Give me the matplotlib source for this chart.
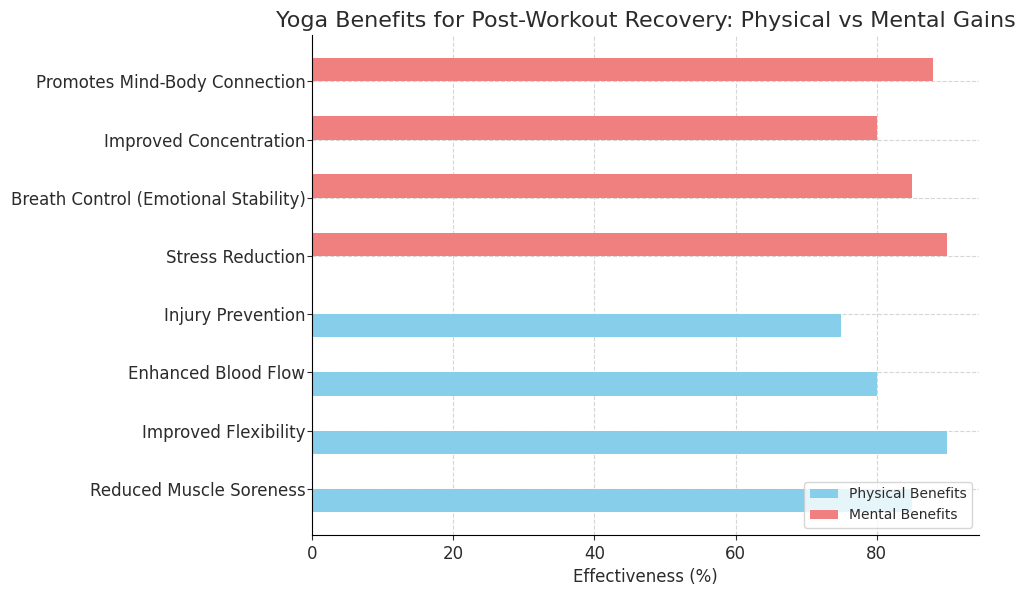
import numpy as np
import matplotlib
matplotlib.use('Agg')
from matplotlib import pyplot as plt

categories = ['Reduced Muscle Soreness', 'Improved Flexibility', 'Enhanced Blood Flow',
              'Injury Prevention', 'Stress Reduction', 'Breath Control (Emotional Stability)',
              'Improved Concentration', 'Promotes Mind-Body Connection']
physical = [85, 90, 80, 75, 0, 0, 0, 0]
mental = [0, 0, 0, 0, 90, 85, 80, 88]

plt.rcParams['text.color'] = '#2b2b2b'
plt.rcParams['axes.labelcolor'] = '#2b2b2b'
plt.rcParams['xtick.color'] = '#2b2b2b'
plt.rcParams['ytick.color'] = '#2b2b2b'

fig = plt.figure(figsize=(10.24, 5.89), dpi=100)
ax = fig.add_axes([0.305, 0.092, 0.651, 0.848])

y = np.arange(len(categories))
h = 0.4
ax.barh(y - h / 2, physical, height=h, color='skyblue', label='Physical Benefits')
ax.barh(y + h / 2, mental, height=h, color='lightcoral', label='Mental Benefits')

ax.set_yticks(y)
ax.set_yticklabels(categories, fontsize=12)
ax.tick_params(axis='y', pad=1.5)
ax.tick_params(axis='x', labelsize=12)
ax.set_xlabel('Effectiveness (%)', fontsize=12)
ax.set_title('Yoga Benefits for Post-Workout Recovery: Physical vs Mental Gains', fontsize=16)
ax.grid(True, linestyle='--', color='#cccccc', alpha=0.8)
ax.set_axisbelow(True)
for s in ['top', 'right']:
    ax.spines[s].set_visible(False)
ax.legend(loc='lower right', fontsize=10)

plt.savefig('out.png')
